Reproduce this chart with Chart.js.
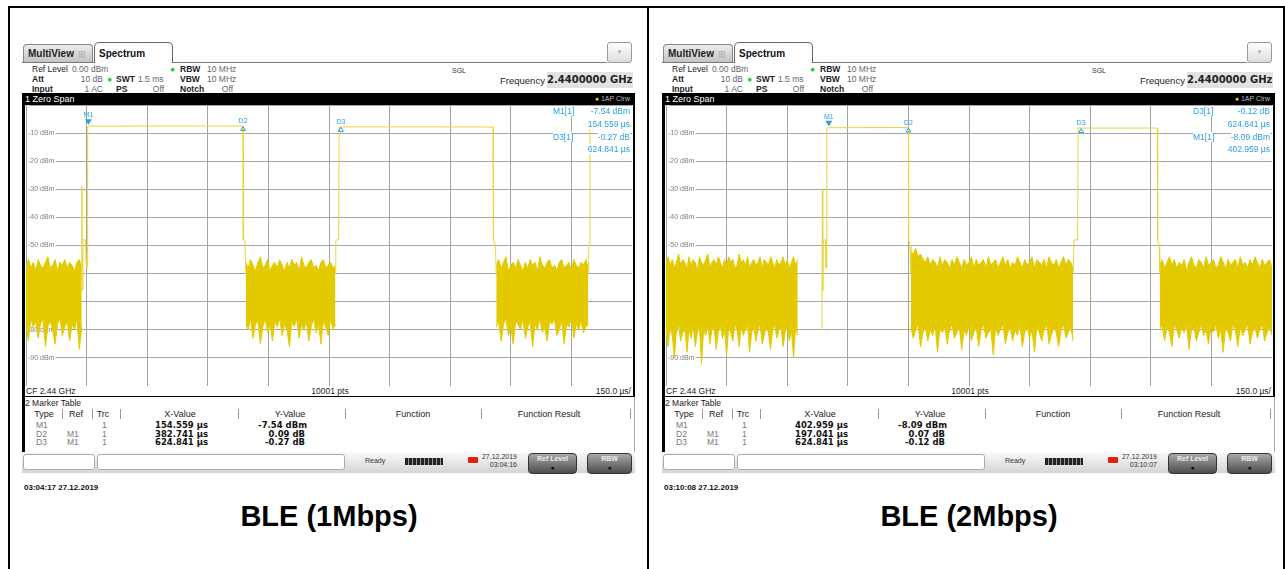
<!DOCTYPE html>
<html>
<head>
<meta charset="utf-8">
<title>BLE zero span</title>
<script src="https://cdn.jsdelivr.net/npm/chart.js@4.4.1/dist/chart.umd.min.js"></script>
<style>
html, body { margin: 0; padding: 0; background: #fff; }
body { width: 1285px; height: 569px; position: relative; overflow: hidden; font-family: "Liberation Sans", Arial, sans-serif; }
.shot { position: absolute; top: 0; width: 640px; height: 569px; }
.shot div { position: absolute; white-space: nowrap; font-size: 8px; line-height: 10px; }
.shot div.ui { font-size: 8.5px; line-height: 10px; color: #222; }
.shot div.sm { font-size: 7px; line-height: 8px; color: #333; }
.shot div.gray { color: #777; }
.shot div.b { font-weight: bold; }
.shot div.val { font-family: "DejaVu Sans", sans-serif; font-weight: bold; font-size: 8.5px; line-height: 9px; color: #111; }
.shot div.blue { font-size: 8.5px; line-height: 11px; color: #2a9fe0; }
.shot div.blue span { background: #fff; }
.shot div.btn { background: linear-gradient(#a8a8a8, #4c4c4c); border: 1px solid #333; border-radius: 4px; box-sizing: border-box; }
</style>
</head>
<body>

<script>
// ---- data ----
const axisX = { min: 0, max: 1500, step: 150 };     // us, 150 us/div
const axisY = { min: -100, max: 0, step: 10 };       // dBm

// BLE 1 Mbps: trace outside the noise floor (time us, level dBm), null = gap
const ble1TraceT = [138, 138.6, 139.2, 141, 147, 149.5, 152, 152.6, 154.6, 300, 537.2, 537.8, 542, 544, 650, 766, 767, 774, 775, 1000, 1156, 1157, 1162, 1164, 1280, 1392, 1393, 1395, 1396, 1500];
const ble1TraceV = [-62, -29, -66, -48, -48, -58, -58, -7.6, -7.54, -7.5, -7.45, -48, -48, -60, null, -60, -48, -48, -7.8, -7.8, -7.82, -48, -50, -60, null, -60, -50, -50, -7.5, -7.5];
// noise floor segments: [start, end] and upper / lower envelope
const ble1NoiseSpan = [[0, 138], [544, 766], [1164, 1392]];
const ble1NoiseHi = [
  [-57,-55,-58,-56,-59,-55,-57,-58,-56,-54,-58,-57,-55,-59,-56,-57,-55,-58,-56,-57,-59,-56,-55,-58],
  [-56,-58,-55,-57,-59,-56,-54,-58,-57,-55,-59,-57,-56,-58,-55,-57,-59,-56,-58,-55,-57,-56,-59,-54,-57,-58,-56,-55,-58,-57,-59,-56,-55,-58,-57,-56,-58,-57],
  [-57,-55,-58,-56,-54,-59,-57,-56,-58,-55,-57,-59,-56,-58,-55,-57,-56,-59,-54,-57,-58,-56,-55,-58,-57,-59,-56,-55,-58,-57,-56,-59,-55,-57,-58,-56,-57,-55,-58]
];
const ble1NoiseLo = [
  [-78,-84,-76,-79,-77,-83,-78,-76,-86,-79,-77,-80,-85,-78,-76,-82,-79,-77,-84,-78,-80,-76,-87,-79],
  [-78,-80,-76,-83,-78,-77,-85,-79,-76,-81,-78,-84,-77,-79,-76,-82,-78,-80,-86,-77,-79,-76,-83,-78,-80,-77,-84,-79,-76,-81,-78,-85,-77,-79,-82,-76,-80,-78],
  [-79,-77,-84,-78,-76,-82,-79,-85,-77,-78,-80,-76,-83,-79,-77,-86,-78,-80,-76,-81,-79,-84,-77,-78,-76,-82,-80,-77,-85,-78,-79,-76,-83,-78,-80,-77,-81,-79,-78]
];
const ble1MarkerName = ['M1', 'D2', 'D3'];
const ble1MarkerX = [154.559, 382.741, 624.841];
const ble1MarkerY = [-7.54, 0.09, -0.27];

// BLE 2 Mbps
const ble2TraceT = [326, 330, 386, 387, 388, 389, 395, 396, 397.5, 398, 402.96, 600, 600.5, 604, 606, 800, 1008, 1010, 1019, 1020, 1027.8, 1216, 1217, 1221, 1222];
const ble2TraceV = [-62, null, -80, -30, -66, -48, -48, -58, -58, -8.1, -8.09, -8.02, -48, -50, -60, null, -60, -48, -48, -8.2, -8.21, -8.2, -48, -50, -60];
const ble2NoiseSpan = [[0, 326], [606, 1008], [1222, 1500]];
const ble2NoiseHi = [
  [-56,-54,-57,-55,-58,-56,-53,-57,-55,-56,-58,-54,-57,-55,-56,-59,-54,-56,-57,-55,-53,-58,-56,-55,-57,-54,-56,-58,-55,-57,-54,-56,-55,-58,-57,-53,-56,-55,-57,-54,-58,-56,-55,-57,-56,-54,-58,-55,-56,-57,-54,-56,-58,-55,-57,-56,-54,-57,-55,-58,-56,-54,-57,-55],
  [-52,-53,-51,-54,-53,-55,-56,-54,-57,-55,-56,-58,-54,-57,-55,-56,-58,-55,-57,-54,-56,-58,-55,-57,-56,-54,-58,-55,-57,-56,-55,-58,-54,-57,-56,-55,-58,-56,-54,-57,-55,-58,-56,-57,-54,-56,-58,-55,-57,-56,-54,-58,-55,-56,-57,-55,-58,-54,-56,-57,-55,-58,-56,-54,-57,-55,-56,-58],
  [-57,-55,-58,-56,-54,-57,-55,-58,-56,-57,-55,-59,-56,-54,-57,-58,-55,-56,-58,-54,-57,-56,-55,-58,-57,-54,-56,-58,-55,-57,-56,-55,-58,-54,-57,-56,-58,-55,-57,-54,-56,-58,-55,-57,-56,-55,-58]
];
const ble2NoiseLo = [
  [-80,-86,-79,-82,-90,-80,-78,-84,-81,-79,-88,-80,-83,-78,-86,-81,-79,-92,-80,-82,-78,-85,-80,-79,-87,-81,-78,-83,-80,-89,-79,-81,-84,-78,-80,-86,-79,-82,-80,-78,-88,-81,-79,-84,-80,-78,-85,-82,-79,-81,-87,-80,-78,-83,-80,-79,-86,-81,-78,-84,-80,-90,-79,-82],
  [-79,-83,-80,-78,-86,-81,-79,-84,-80,-82,-78,-88,-80,-81,-79,-85,-80,-78,-83,-81,-79,-87,-80,-82,-78,-84,-81,-79,-86,-80,-78,-83,-81,-80,-89,-79,-82,-80,-78,-85,-81,-79,-84,-80,-82,-78,-86,-81,-79,-83,-80,-88,-79,-81,-84,-80,-78,-85,-82,-79,-81,-86,-80,-78,-83,-81,-79,-84],
  [-80,-78,-84,-79,-81,-86,-78,-80,-83,-79,-81,-78,-87,-80,-79,-84,-81,-78,-82,-80,-85,-79,-81,-78,-83,-80,-88,-79,-81,-84,-78,-80,-86,-79,-82,-80,-78,-85,-81,-79,-83,-80,-78,-84,-81,-79,-82]
];
const ble2MarkerName = ['M1', 'D2', 'D3'];
const ble2MarkerX = [402.959, 197.041, 624.841];
const ble2MarkerY = [-8.09, 0.07, -0.12];

const shots = [
  { caption: 'BLE (1Mbps)', stamp: '03:04:17 27.12.2019', clock: '03:04:16',
    readout: [['M1[1]', '-7.54 dBm'], ['', '154.559 µs'], ['D3[1]', '-0.27 dB'], ['', '624.841 µs']],
    trace: [ble1TraceT, ble1TraceV], noise: [ble1NoiseSpan, ble1NoiseHi, ble1NoiseLo],
    markers: [ble1MarkerName, ble1MarkerX, ble1MarkerY] },
  { caption: 'BLE (2Mbps)', stamp: '03:10:08 27.12.2019', clock: '03:10:07',
    readout: [['D3[1]', '-0.12 dB'], ['', '624.841 µs'], ['M1[1]', '-8.09 dBm'], ['', '402.959 µs']],
    trace: [ble2TraceT, ble2TraceV], noise: [ble2NoiseSpan, ble2NoiseHi, ble2NoiseLo],
    markers: [ble2MarkerName, ble2MarkerX, ble2MarkerY] }
];

const TRACE = '#ead43a';
const NOISE = '#e3ca00';
const MARK = '#2a9fe0';

// ---- helpers for the instrument frame ----
function put(root, x, y, css, html, cls) {
  const d = document.createElement('div');
  d.style.cssText = 'position:absolute;left:' + x + 'px;top:' + y + 'px;' + (css || '');
  d.innerHTML = html || '';
  if (cls) d.className = cls;
  root.appendChild(d);
  return d;
}
function txt(root, x, y, cls, s) { return put(root, x, y, '', s, cls); }
function txtR(root, xr, y, cls, s) { return put(root, xr - 200, y, 'width:200px;text-align:right', s, cls); }
function txtC(root, xc, y, cls, s) { return put(root, xc - 100, y, 'width:200px;text-align:center', s, cls); }

// outer table lines
put(document.body, 8, 6, 'width:1277px;height:2px;background:#000');
put(document.body, 8, 6, 'width:2px;height:563px;background:#000');
put(document.body, 647, 6, 'width:2px;height:563px;background:#000');
put(document.body, 1283, 6, 'width:2px;height:563px;background:#000');

function buildShot(s, idx) {
  const root = document.createElement('div');
  root.className = 'shot';
  root.style.left = (idx * 640) + 'px';
  document.body.appendChild(root);

  // tabs
  put(root, 22, 62, 'width:585px;height:1px;background:#777');
  put(root, 23, 44, 'width:70px;height:18px;box-sizing:border-box;border:1px solid #888;border-bottom:none;border-radius:4px 4px 0 0;background:linear-gradient(#ececec,#c4c4c4);font-size:10px;font-weight:bold;line-height:17px;padding-left:4px;color:#222',
    'MultiView<span style="color:#aaa;font-weight:normal;margin-left:4px;font-size:9px">&#8862;</span>');
  put(root, 94, 42, 'width:79px;height:21px;box-sizing:border-box;border:1px solid #666;border-bottom:none;border-radius:5px 5px 0 0;background:#fff;font-size:10px;font-weight:bold;line-height:21px;padding-left:4px;color:#111', 'Spectrum');
  put(root, 607, 42, 'width:25px;height:21px;box-sizing:border-box;border:1px solid #999;border-radius:3px;background:linear-gradient(#fff,#ddd);font-size:6px;color:#aaa;text-align:center;line-height:19px', '&#9660;');

  // settings block
  const g = function (v) { return '<span style="color:#666;font-weight:normal">' + v + '</span>'; };
  txt(root, 32, 64, 'ui', 'Ref Level'); txt(root, 72, 64, 'ui', g('0.00 dBm'));
  txt(root, 32, 74, 'ui b', 'Att'); txtR(root, 103, 74, 'ui', g('10 dB'));
  txt(root, 107, 74, 'ui', '<span style="color:#3c3">&#9679;</span>');
  txt(root, 116, 74, 'ui b', 'SWT'); txt(root, 138, 74, 'ui', g('1.5 ms'));
  txt(root, 32, 84, 'ui b', 'Input'); txtR(root, 103, 84, 'ui', g('1 AC'));
  txt(root, 116, 84, 'ui b', 'PS'); txtR(root, 164, 84, 'ui', g('Off'));
  txt(root, 170, 64, 'ui', '<span style="color:#3c3">&#9679;</span>');
  txt(root, 180, 64, 'ui b', 'RBW'); txt(root, 207, 64, 'ui', g('10 MHz'));
  txt(root, 180, 74, 'ui b', 'VBW'); txt(root, 207, 74, 'ui', g('10 MHz'));
  txt(root, 180, 84, 'ui b', 'Notch'); txtR(root, 233, 84, 'ui', g('Off'));
  txt(root, 452, 67, 'sm', 'SGL');
  put(root, 500, 75, 'font-size:9.5px;line-height:12px;color:#222', 'Frequency');
  put(root, 547, 72, 'width:86px;height:16px;background:#e2e2e2;font-family:DejaVu Sans,sans-serif;font-weight:bold;font-size:10px;line-height:16px;text-align:right;padding-right:1px;box-sizing:border-box;color:#222', '2.4400000 GHz');

  // black frame, plot area
  put(root, 22, 93, 'width:613px;height:304px;background:#000');
  put(root, 25, 93, 'font-size:9px;line-height:12px;color:#fff', '1 Zero Span');
  txtR(root, 630, 95, 'sm', '<span style="color:#f0d000">&#9679;</span> <span style="color:#bbb">1AP Clrw</span>');
  put(root, 25, 105, 'width:608px;height:281px;background:#fff');
  put(root, 26, 105, 'width:606px;height:281px', '<canvas id="plot' + idx + '" width="606" height="281"></canvas>');

  // marker readout
  s.readout.forEach(function (r, i) {
    const y = 106 + i * 12.8;
    if (r[0]) txt(root, 553, y, 'blue', '<span>' + r[0] + '</span>');
    txtR(root, 630, y, 'blue', '<span>' + r[1] + '</span>');
  });

  // CF row
  put(root, 25, 386, 'width:608px;height:10px;background:#fff');
  txt(root, 26, 386, 'ui', 'CF 2.44 GHz');
  txtC(root, 330, 386, 'ui', '10001 pts');
  txtR(root, 631, 386, 'ui', '150.0 µs/');

  // marker table
  put(root, 22, 397, 'width:613px;height:55px;background:#fff;border-left:3px solid #000;border-right:1px solid #aaa;box-sizing:border-box');
  txt(root, 25, 398, 'ui', '2 Marker Table');
  [62, 92, 120, 238, 345, 481, 630].forEach(function (x) { put(root, x, 409, 'width:1px;height:10px;background:#999'); });
  const heads = [[44, 'Type'], [76, 'Ref'], [103, 'Trc'], [180, 'X-Value'], [290, 'Y-Value'], [413, 'Function'], [549, 'Function Result']];
  heads.forEach(function (h) { txtC(root, h[0], 409, 'ui', '<span style="font-size:9px">' + h[1] + '</span>'); });
  const mk = s.markers;
  mk[0].forEach(function (name, i) {
    const y = 421 + i * 8.6;
    const isM = name.charAt(0) === 'M';
    txt(root, 36, y - 1, 'ui gray', name);
    if (!isM) txt(root, 67, y - 1, 'ui gray', 'M1');
    txt(root, 102, y - 1, 'ui gray', '1');
    txtR(root, 208, y, 'val', mk[1][i].toFixed(3) + ' µs');
    txtR(root, isM ? 307 : 305, y, 'val', mk[2][i].toFixed(2) + (isM ? ' dBm' : ' dB'));
  });

  // status bar
  put(root, 22, 452, 'width:613px;height:21px;background:linear-gradient(#fafafa,#d4d4d4)');
  put(root, 23, 454, 'width:72px;height:16px;box-sizing:border-box;border:1px solid #aaa;border-radius:3px;background:#fff');
  put(root, 97, 454, 'width:248px;height:16px;box-sizing:border-box;border:1px solid #aaa;border-radius:3px;background:#fff');
  txt(root, 365, 457, 'sm', 'Ready');
  put(root, 405, 458, 'width:38px;height:7px;background:repeating-linear-gradient(90deg,#222 0 3px,#999 3px 4px)');
  put(root, 468, 457, 'width:10px;height:6px;background:#d21;border-radius:1px');
  txtR(root, 517, 453, 'sm', '27.12.2019');
  txtR(root, 517, 461, 'sm', s.clock);
  put(root, 528, 453, 'width:49px;height:21px', '', 'btn');
  put(root, 528, 454, 'width:49px;text-align:center;font-size:7px;font-weight:bold;color:#eee;line-height:9px', 'Ref Level<br><span style="color:#111">&#9679;</span>');
  put(root, 587, 453, 'width:45px;height:21px', '', 'btn');
  put(root, 587, 454, 'width:45px;text-align:center;font-size:7px;font-weight:bold;color:#eee;line-height:9px', 'RBW<br><span style="color:#111">&#9679;</span>');

  // screenshot time stamp and caption
  put(root, 24, 483, 'font-size:8px;font-weight:bold;color:#111;line-height:10px', s.stamp);
  put(root, 129, 499, 'width:400px;text-align:center;font-size:29px;font-weight:bold;color:#000;line-height:34px', s.caption);
}

shots.forEach(buildShot);

// ---- charts ----
function pts(t, v) { return t.map(function (x, i) { return { x: x, y: v[i] }; }); }
function noisePts(span, vals) {
  const step = (span[1] - span[0]) / (vals.length - 1);
  return vals.map(function (v, i) { return { x: span[0] + i * step, y: v }; });
}

const markerPlugin = {
  id: 'markers',
  afterDatasetsDraw: function (chart, args, opts) {
    const ctx = chart.ctx, xs = chart.scales.x, ys = chart.scales.y;
    const names = opts.list[0], mx = opts.list[1], my = opts.list[2];
    ctx.save();
    ctx.fillStyle = MARK; ctx.strokeStyle = MARK; ctx.lineWidth = 1;
    ctx.font = '7px "Liberation Sans", sans-serif';
    ctx.textAlign = 'center'; ctx.textBaseline = 'alphabetic';
    names.forEach(function (n, i) {
      const isM = n.charAt(0) === 'M';
      const t = isM ? mx[i] : mx[0] + mx[i];
      const v = isM ? my[i] : my[0] + my[i];
      const x = xs.getPixelForValue(t), y = ys.getPixelForValue(v);
      if (isM) {
        ctx.beginPath(); ctx.moveTo(x - 3.5, y - 7); ctx.lineTo(x + 3.5, y - 7); ctx.lineTo(x, y - 1.5); ctx.closePath(); ctx.fill();
        ctx.fillText(n, x, y - 9);
      } else {
        ctx.beginPath(); ctx.moveTo(x, y + 0.5); ctx.lineTo(x - 2.5, y + 4.5); ctx.lineTo(x + 2.5, y + 4.5); ctx.closePath(); ctx.stroke();
        ctx.fillText(n, x, y - 3);
      }
    });
    ctx.restore();
  }
};

shots.forEach(function (s, idx) {
  const datasets = [];
  const span = s.noise[0], hi = s.noise[1], lo = s.noise[2];
  datasets.push({ data: pts(s.trace[0], s.trace[1]), borderColor: TRACE, borderWidth: 1, fill: false, spanGaps: false });
  span.forEach(function (sp, k) {
    datasets.push({ data: noisePts(sp, hi[k]), borderColor: NOISE, borderWidth: 1, fill: false });
    datasets.push({ data: noisePts(sp, lo[k]), borderColor: NOISE, borderWidth: 1, fill: '-1', backgroundColor: NOISE });
  });

  new Chart(document.getElementById('plot' + idx), {
    type: 'line',
    data: { datasets: datasets },
    options: {
      responsive: false,
      animation: false,
      layout: { padding: 0 },
      elements: { point: { radius: 0 }, line: { tension: 0 } },
      plugins: { legend: { display: false }, tooltip: { enabled: false }, markers: { list: s.markers } },
      scales: {
        x: {
          type: 'linear', min: axisX.min, max: axisX.max,
          ticks: { display: false, stepSize: axisX.step },
          grid: { color: '#a4a4a4', drawTicks: false },
          border: { display: false },
          afterFit: function (sc) { sc.height = 0; sc.paddingLeft = 0; sc.paddingRight = 0; }
        },
        y: {
          min: axisY.min, max: axisY.max,
          ticks: {
            stepSize: axisY.step, mirror: true, padding: 2,
            color: '#808080', font: { size: 7, family: '"Liberation Sans", sans-serif' },
            showLabelBackdrop: true, backdropColor: '#fff', backdropPadding: { left: 1, right: 1, top: 0, bottom: 0 },
            callback: function (v) { return (v <= axisY.min || v >= axisY.max) ? '' : v + ' dBm'; }
          },
          grid: { color: '#a4a4a4', drawTicks: false },
          border: { display: false },
          afterFit: function (sc) { sc.width = 0; sc.paddingTop = 0; sc.paddingBottom = 0; }
        }
      }
    },
    plugins: [markerPlugin]
  });
});
</script>
</body>
</html>
